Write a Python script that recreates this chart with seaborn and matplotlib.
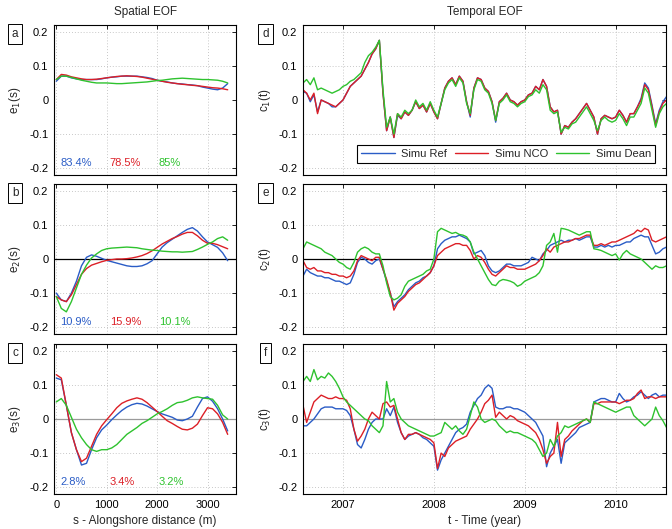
import numpy as np
import pandas as pd
import matplotlib
matplotlib.use("Agg")
import matplotlib.pyplot as plt
import seaborn as sns

RUNS = ["Simu Ref", "Simu NCO", "Simu Dean"]
COLORS = {"Simu Ref": "#2a5cc6", "Simu NCO": "#dc1f26", "Simu Dean": "#2ec22e"}

# alongshore positions (m) and time samples (year)
s = np.arange(0, 3500, 100)
t = 2006.56 + 0.04 * np.arange(101)

# spatial EOFs
e1_ref = [0.055, 0.07, 0.07, 0.065, 0.062, 0.06, 0.06, 0.06, 0.06, 0.062, 0.065, 0.067, 0.068, 0.07, 0.07,
          0.07, 0.07, 0.068, 0.066, 0.063, 0.058, 0.055, 0.053, 0.05, 0.048, 0.047, 0.045, 0.044, 0.042,
          0.038, 0.035, 0.032, 0.03, 0.035, 0.048]
e1_nco = [0.06, 0.075, 0.073, 0.068, 0.065, 0.062, 0.06, 0.06, 0.061, 0.063, 0.065, 0.067, 0.069, 0.07, 0.071,
          0.07, 0.069, 0.067, 0.064, 0.061, 0.058, 0.055, 0.052, 0.05, 0.048, 0.046, 0.045, 0.043, 0.042,
          0.04, 0.038, 0.036, 0.035, 0.033, 0.03]
e1_dean = [0.06, 0.07, 0.07, 0.066, 0.062, 0.058, 0.055, 0.052, 0.05, 0.05, 0.05, 0.049, 0.048, 0.048, 0.049,
           0.05, 0.051, 0.052, 0.053, 0.055, 0.057, 0.058, 0.06, 0.062, 0.063, 0.064, 0.063, 0.062, 0.061,
           0.06, 0.06, 0.059, 0.058, 0.055, 0.05]

e2_ref = [-0.1, -0.12, -0.125, -0.1, -0.065, -0.02, 0.005, 0.012, 0.008, 0.002, -0.004, -0.008, -0.012, -0.016,
          -0.02, -0.022, -0.022, -0.02, -0.014, -0.005, 0.015, 0.035, 0.048, 0.058, 0.068, 0.078, 0.087, 0.092,
          0.082, 0.065, 0.05, 0.042, 0.034, 0.018, -0.005]
e2_nco = [-0.11, -0.12, -0.125, -0.105, -0.075, -0.045, -0.028, -0.018, -0.013, -0.008, -0.004, -0.002, 0.0, 0.0,
          0.001, 0.003, 0.006, 0.01, 0.016, 0.024, 0.034, 0.044, 0.052, 0.06, 0.066, 0.073, 0.078, 0.078, 0.068,
          0.055, 0.046, 0.046, 0.042, 0.036, 0.03]
e2_dean = [-0.11, -0.145, -0.155, -0.125, -0.085, -0.045, -0.018, 0.003, 0.015, 0.025, 0.03, 0.032, 0.033, 0.034,
           0.035, 0.034, 0.033, 0.03, 0.028, 0.026, 0.025, 0.023, 0.022, 0.021, 0.021, 0.02, 0.021, 0.022, 0.028,
           0.035, 0.043, 0.05, 0.06, 0.065, 0.055]

e3_ref = [0.12, 0.115, 0.04, -0.04, -0.09, -0.135, -0.13, -0.09, -0.055, -0.032, -0.018, -0.002, 0.012, 0.025,
          0.035, 0.042, 0.046, 0.044, 0.038, 0.03, 0.022, 0.015, 0.01, 0.005, -0.003, -0.005, 0.0, 0.008, 0.035,
          0.06, 0.065, 0.052, 0.03, 0.0, -0.035]
e3_nco = [0.13, 0.12, 0.04, -0.04, -0.09, -0.125, -0.115, -0.08, -0.045, -0.02, -0.002, 0.015, 0.033, 0.046,
          0.053, 0.058, 0.062, 0.058, 0.048, 0.035, 0.022, 0.008, -0.005, -0.013, -0.022, -0.03, -0.032, -0.027,
          -0.015, 0.01, 0.033, 0.03, 0.015, -0.01, -0.045]
e3_dean = [0.05, 0.06, 0.04, 0.005, -0.03, -0.055, -0.075, -0.09, -0.095, -0.09, -0.09, -0.085, -0.075, -0.06,
           -0.045, -0.035, -0.025, -0.013, -0.005, 0.005, 0.015, 0.022, 0.03, 0.04, 0.048, 0.05, 0.055, 0.062,
           0.065, 0.062, 0.06, 0.058, 0.04, 0.012, 0.0]

# temporal EOFs
c1_ref = [0.025, 0.02, -0.005, 0.015, -0.035, 0.0, -0.005, -0.01, -0.02, -0.02,
          -0.01, 0.0, 0.02, 0.04, 0.05, 0.06, 0.07, 0.09, 0.11, 0.135,
          0.15, 0.175, 0.02, -0.09, -0.05, -0.11, -0.045, -0.055, -0.035, -0.045,
          -0.03, -0.005, -0.025, -0.015, -0.035, -0.01, -0.035, -0.055, -0.01, 0.035,
          0.055, 0.065, 0.045, 0.07, 0.055, -0.005, -0.05, 0.035, 0.065, 0.06,
          0.035, 0.025, -0.005, -0.065, -0.005, 0.005, 0.02, 0.0, -0.005, -0.015,
          -0.005, 0.0, 0.015, 0.02, 0.04, 0.03, 0.06, 0.04, -0.02, -0.035,
          -0.03, -0.1, -0.075, -0.08, -0.065, -0.055, -0.04, -0.025, -0.01, -0.03,
          -0.05, -0.1, -0.055, -0.045, -0.05, -0.055, -0.05, -0.03, -0.045, -0.065,
          -0.04, -0.04, -0.02, 0.005, 0.05, 0.035, -0.015, -0.07, -0.03, -0.005,
          0.01]
c1_nco = [0.03, 0.02, 0.0, 0.02, -0.04, 0.0, -0.005, -0.01, -0.015, -0.02,
          -0.01, 0.0, 0.02, 0.04, 0.05, 0.06, 0.07, 0.09, 0.11, 0.135,
          0.15, 0.175, 0.02, -0.09, -0.05, -0.11, -0.04, -0.055, -0.035, -0.045,
          -0.03, -0.005, -0.025, -0.015, -0.035, -0.01, -0.035, -0.055, -0.01, 0.035,
          0.055, 0.065, 0.045, 0.07, 0.055, -0.005, -0.045, 0.035, 0.065, 0.06,
          0.035, 0.025, -0.005, -0.06, -0.005, 0.005, 0.02, 0.0, -0.005, -0.015,
          -0.005, 0.0, 0.015, 0.02, 0.04, 0.03, 0.06, 0.04, -0.02, -0.035,
          -0.03, -0.1, -0.075, -0.08, -0.065, -0.055, -0.04, -0.025, -0.01, -0.03,
          -0.05, -0.1, -0.055, -0.045, -0.05, -0.055, -0.05, -0.03, -0.045, -0.065,
          -0.04, -0.04, -0.02, 0.0, 0.045, 0.03, -0.02, -0.075, -0.035, -0.01,
          0.0]
c1_dean = [0.05, 0.06, 0.045, 0.065, 0.03, 0.035, 0.03, 0.025, 0.02, 0.025,
           0.03, 0.04, 0.045, 0.055, 0.06, 0.07, 0.08, 0.11, 0.13, 0.14,
           0.155, 0.175, 0.03, -0.08, -0.05, -0.1, -0.04, -0.05, -0.03, -0.04,
           -0.03, 0.0, -0.02, -0.01, -0.03, -0.005, -0.03, -0.05, -0.01, 0.03,
           0.05, 0.06, 0.04, 0.065, 0.05, -0.01, -0.04, 0.03, 0.06, 0.055,
           0.03, 0.02, -0.01, -0.06, -0.01, 0.0, 0.015, -0.005, -0.01, -0.02,
           -0.01, -0.005, 0.01, 0.015, 0.03, 0.02, 0.045, 0.03, -0.03, -0.04,
           -0.035, -0.095, -0.08, -0.085, -0.07, -0.065, -0.05, -0.035, -0.02, -0.04,
           -0.06, -0.09, -0.06, -0.05, -0.06, -0.065, -0.06, -0.04, -0.055, -0.075,
           -0.05, -0.05, -0.03, -0.01, 0.035, 0.02, -0.03, -0.08, -0.04, -0.02,
           -0.01]

c2_ref = [-0.05, -0.03, -0.04, -0.045, -0.05, -0.05, -0.055, -0.055, -0.06, -0.065,
          -0.065, -0.07, -0.075, -0.07, -0.045, -0.01, 0.005, 0.0, -0.01, -0.015,
          -0.005, 0.0, -0.03, -0.065, -0.1, -0.14, -0.125, -0.115, -0.105, -0.09,
          -0.08, -0.07, -0.065, -0.055, -0.05, -0.04, -0.02, 0.03, 0.045, 0.055,
          0.06, 0.065, 0.065, 0.07, 0.065, 0.06, 0.05, 0.015, 0.02, 0.025,
          0.01, -0.02, -0.035, -0.04, -0.035, -0.025, -0.015, -0.015, -0.02, -0.02,
          -0.02, -0.015, -0.01, 0.005, 0.0, -0.005, 0.015, 0.025, 0.04, 0.045,
          0.05, 0.055, 0.05, 0.055, 0.055, 0.06, 0.055, 0.06, 0.065, 0.065,
          0.035, 0.035, 0.04, 0.035, 0.04, 0.035, 0.04, 0.04, 0.045, 0.05,
          0.05, 0.06, 0.065, 0.07, 0.065, 0.065, 0.04, 0.015, 0.02, 0.03,
          0.035]
c2_nco = [-0.005, -0.025, -0.03, -0.025, -0.035, -0.035, -0.04, -0.04, -0.045, -0.045,
          -0.05, -0.05, -0.055, -0.05, -0.035, -0.005, 0.01, 0.005, 0.0, -0.005,
          0.005, 0.005, -0.03, -0.06, -0.1, -0.15, -0.13, -0.12, -0.11, -0.095,
          -0.085, -0.075, -0.07, -0.06, -0.05, -0.04, -0.02, 0.01, 0.02, 0.03,
          0.035, 0.04, 0.045, 0.045, 0.04, 0.04, 0.025, 0.0, 0.01, 0.005,
          -0.01, -0.03, -0.045, -0.05, -0.04, -0.03, -0.02, -0.025, -0.025, -0.03,
          -0.03, -0.03, -0.025, -0.02, -0.015, -0.005, 0.01, 0.03, 0.02, 0.035,
          0.04, 0.045, 0.05, 0.05, 0.055, 0.06, 0.06, 0.065, 0.07, 0.07,
          0.04, 0.04, 0.045, 0.04, 0.045, 0.05, 0.05, 0.055, 0.06, 0.065,
          0.07, 0.075, 0.085, 0.08, 0.09, 0.085, 0.055, 0.05, 0.055, 0.06,
          0.065]
c2_dean = [0.03, 0.05, 0.045, 0.04, 0.035, 0.03, 0.02, 0.015, 0.01, 0.0,
           -0.01, -0.015, -0.025, -0.03, -0.01, 0.02, 0.03, 0.035, 0.03, 0.02,
           0.015, 0.015, -0.02, -0.07, -0.11, -0.12, -0.115, -0.105, -0.08, -0.065,
           -0.06, -0.055, -0.05, -0.045, -0.035, -0.03, 0.0, 0.08, 0.09, 0.085,
           0.08, 0.075, 0.078, 0.072, 0.07, 0.065, 0.05, 0.02, 0.0, -0.02,
           -0.04, -0.06, -0.075, -0.078, -0.065, -0.06, -0.062, -0.065, -0.07, -0.08,
           -0.075, -0.065, -0.06, -0.055, -0.05, -0.04, -0.02, 0.04, 0.05, 0.075,
           0.02, 0.09, 0.088, 0.085, 0.08, 0.075, 0.07, 0.075, 0.08, 0.08,
           0.03, 0.028, 0.025, 0.02, 0.015, 0.01, 0.015, -0.003, 0.015, 0.025,
           0.015, 0.01, 0.005, 0.0, -0.01, -0.02, -0.03, -0.02, -0.025, -0.025,
           -0.02]

c3_ref = [-0.02, -0.02, -0.01, 0.0, 0.015, 0.03, 0.035, 0.035, 0.035, 0.03,
          0.03, 0.03, 0.025, 0.01, -0.03, -0.075, -0.085, -0.06, -0.03, -0.01,
          0.0, 0.0, 0.0, 0.03, 0.01, 0.035, -0.01, -0.04, -0.06, -0.05,
          -0.045, -0.04, -0.045, -0.055, -0.06, -0.07, -0.08, -0.15, -0.12, -0.1,
          -0.08, -0.06, -0.04, -0.03, -0.025, -0.015, 0.02, 0.04, 0.06, 0.07,
          0.09, 0.1, 0.09, 0.035, 0.03, 0.03, 0.035, 0.035, 0.03, 0.03,
          0.025, 0.02, 0.01, 0.0, -0.01, -0.03, -0.05, -0.14, -0.1, -0.08,
          -0.06, -0.13, -0.07, -0.06, -0.05, -0.04, -0.025, -0.02, -0.015, -0.01,
          0.05, 0.055, 0.06, 0.06, 0.055, 0.05, 0.05, 0.075, 0.06, 0.05,
          0.055, 0.065, 0.07, 0.08, 0.07, 0.06, 0.07, 0.075, 0.065, 0.07,
          0.07]
c3_nco = [0.04, -0.01, 0.02, 0.05, 0.06, 0.07, 0.065, 0.06, 0.06, 0.065,
          0.06, 0.06, 0.055, 0.03, -0.03, -0.065, -0.05, -0.03, 0.0, 0.02,
          0.01, 0.0, 0.045, 0.05, 0.035, 0.04, 0.0, -0.04, -0.06, -0.045,
          -0.045, -0.04, -0.045, -0.05, -0.055, -0.06, -0.07, -0.145, -0.1, -0.11,
          -0.085, -0.075, -0.065, -0.06, -0.055, -0.05, -0.03, -0.015, 0.0, 0.02,
          0.045, 0.055, 0.07, 0.005, 0.02, 0.01, 0.0, 0.01, 0.005, -0.005,
          -0.01, -0.015, -0.02, -0.03, -0.04, -0.06, -0.09, -0.13, -0.11, -0.1,
          -0.01, -0.11, -0.06, -0.05, -0.035, -0.025, -0.015, -0.005, 0.0, -0.01,
          0.045, 0.045, 0.05, 0.05, 0.05, 0.05, 0.05, 0.045, 0.05, 0.055,
          0.055, 0.06, 0.075, 0.085, 0.06, 0.065, 0.065, 0.06, 0.065, 0.065,
          0.065]
c3_dean = [0.11, 0.125, 0.11, 0.145, 0.115, 0.125, 0.12, 0.135, 0.125, 0.11,
           0.09, 0.065, 0.05, 0.04, 0.03, 0.02, 0.01, 0.0, -0.005, -0.02,
           -0.03, -0.04, -0.02, 0.11, 0.05, 0.06, 0.02, 0.0, -0.01, -0.02,
           -0.025, -0.03, -0.035, -0.04, -0.045, -0.05, -0.05, -0.045, -0.04, -0.01,
           -0.02, -0.03, -0.02, -0.035, -0.045, -0.03, 0.01, 0.05, 0.035, 0.0,
           -0.01, -0.005, 0.0, -0.005, -0.02, -0.03, -0.04, -0.035, -0.04, -0.04,
           -0.045, -0.05, -0.055, -0.06, -0.07, -0.09, -0.11, -0.1, -0.06, -0.08,
           -0.05, -0.04, -0.02, -0.025, -0.02, -0.015, -0.01, -0.005, 0.0, -0.01,
           0.05, 0.045, 0.04, 0.035, 0.03, 0.025, 0.02, 0.025, 0.03, 0.035,
           0.035, 0.01, 0.0, -0.01, -0.02, -0.01, 0.0, 0.035, 0.01, -0.005,
           -0.025]

variance = {"a": ["83.4%", "78.5%", "85%"],
            "b": ["10.9%", "15.9%", "10.1%"],
            "c": ["2.8%", "3.4%", "3.2%"]}


def long_frame(x, ref, nco, dean):
    return pd.DataFrame({
        "x": np.tile(x, 3),
        "v": np.concatenate([ref, nco, dean]),
        "run": np.repeat(RUNS, len(x)),
    })


sns.set_theme(style="white")
plt.rcParams["font.family"] = ["Liberation Sans", "DejaVu Sans"]

fig = plt.figure(figsize=(6.72, 5.29), dpi=100)
W, H = 672, 529
bottoms = [175, 334, 494]
left_axes = [fig.add_axes([54 / W, 1 - b / H, 182 / W, 150 / H]) for b in bottoms]
right_axes = [fig.add_axes([303 / W, 1 - b / H, 363 / W, 150 / H]) for b in bottoms]

spatial = [(e1_ref, e1_nco, e1_dean), (e2_ref, e2_nco, e2_dean), (e3_ref, e3_nco, e3_dean)]
temporal = [(c1_ref, c1_nco, c1_dean), (c2_ref, c2_nco, c2_dean), (c3_ref, c3_nco, c3_dean)]
zero_colors = [None, "black", "#9a9a9a"]


def style_axes(ax, xticks, label, letter, letter_x, ylab_x, zero_color):
    ax.set_ylim(-0.22, 0.22)
    ax.set_yticks([-0.2, -0.1, 0, 0.1, 0.2])
    ax.set_yticklabels(["-0.2", "-0.1", "0", "0.1", "0.2"])
    ax.set_xticks(xticks)
    for y in (-0.2, -0.1, 0.1, 0.2):
        ax.axhline(y, color="#b5b5b5", lw=0.6, ls=(0, (1, 2.5)), zorder=0)
    for x in xticks:
        ax.axvline(x, color="#b5b5b5", lw=0.6, ls=(0, (1, 2.5)), zorder=0)
    if zero_color:
        ax.axhline(0, color=zero_color, lw=0.9, zorder=1)
    ax.tick_params(direction="in", top=True, right=True, length=3, width=0.6,
                   labelsize=8, pad=4, colors="black")
    for sp in ax.spines.values():
        sp.set_color("black")
        sp.set_linewidth(0.8)
    ax.set_ylabel(label, fontsize=8.5)
    ax.yaxis.set_label_coords(ylab_x, 0.5)
    ax.set_xlabel("")
    ax.text(letter_x, 0.94, letter, transform=ax.transAxes, ha="center", va="center",
            fontsize=8.5, bbox=dict(boxstyle="square,pad=0.35", fc="white", ec="black", lw=0.7))


for k, ax in enumerate(left_axes):
    df = long_frame(s, *spatial[k])
    sns.lineplot(data=df, x="x", y="v", hue="run", hue_order=RUNS, palette=COLORS,
                 lw=1.0, estimator=None, sort=False, legend=False, ax=ax)
    ax.set_xlim(-45, 3565)
    letter = "abc"[k]
    style_axes(ax, [0, 1000, 2000, 3000], f"e$_{k + 1}$(s)", letter, -0.214, -0.17, zero_colors[k])
    for txt, xpos, run in zip(variance[letter], [80, 1060, 2030], RUNS):
        ax.text(xpos, -0.185, txt, color=COLORS[run], fontsize=8, ha="left", va="center")
    if k < 2:
        ax.set_xticklabels([])
    else:
        ax.set_xticklabels(["0", "1000", "2000", "3000"])
        ax.set_xlabel("s - Alongshore distance (m)", fontsize=8.5)

for k, ax in enumerate(right_axes):
    df = long_frame(t, *temporal[k])
    sns.lineplot(data=df, x="x", y="v", hue="run", hue_order=RUNS, palette=COLORS,
                 lw=1.0, estimator=None, sort=False, legend=(k == 0), ax=ax)
    ax.set_xlim(2006.56, 2010.554)
    letter = "def"[k]
    style_axes(ax, [2007, 2008, 2009, 2010], f"c$_{k + 1}$(t)", letter, -0.103, -0.083, zero_colors[k])
    if k < 2:
        ax.set_xticklabels([])
    else:
        ax.set_xticklabels(["2007", "2008", "2009", "2010"])
        ax.set_xlabel("t - Time (year)", fontsize=8.5)
    if k == 0:
        sns.move_legend(ax, "lower right", bbox_to_anchor=(0.985, 0.045), ncol=3, title=None,
                        fontsize=8, frameon=True, fancybox=False, edgecolor="black",
                        framealpha=1, handlelength=3.0, columnspacing=0.7,
                        borderpad=0.35, handletextpad=0.6)
        ax.get_legend().get_frame().set_linewidth(0.8)

fig.text(146 / W, 1 - 12 / H, "Spatial EOF", ha="center", va="center", fontsize=8.5)
fig.text(484.5 / W, 1 - 12 / H, "Temporal EOF", ha="center", va="center", fontsize=8.5)

fig.savefig("out.png", dpi=100)
